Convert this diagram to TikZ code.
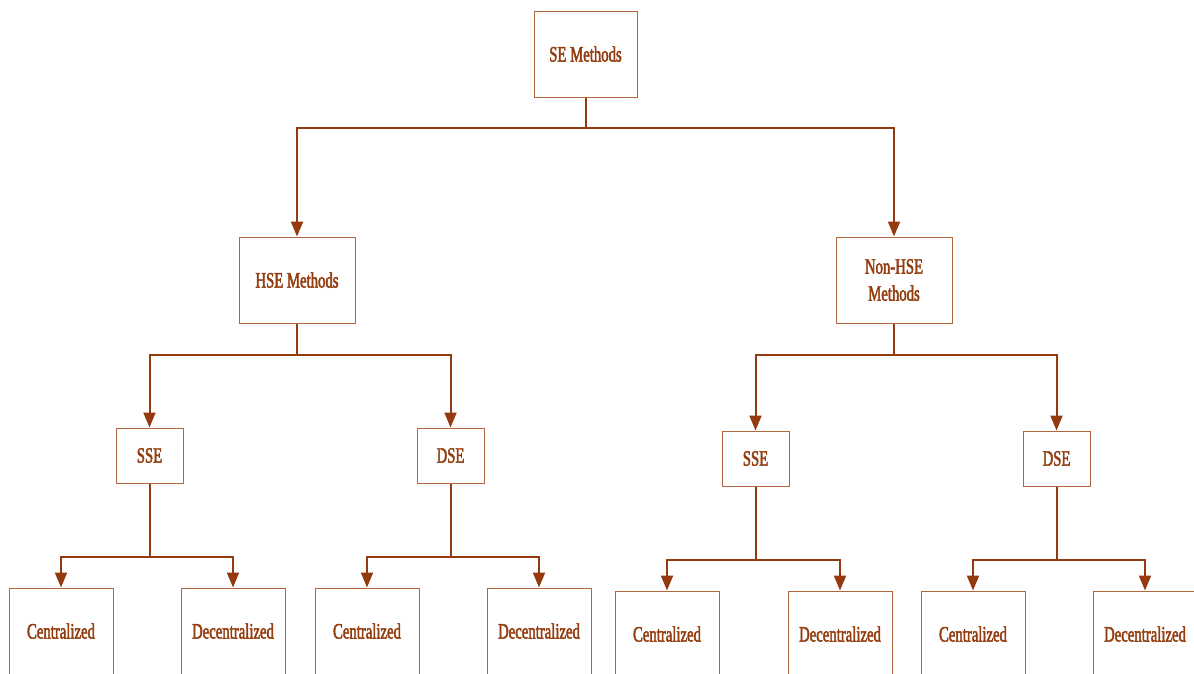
\documentclass[tikz,border=0pt]{standalone}
\usepackage{fontspec}
\setmainfont{Liberation Serif}[FakeStretch=0.67,FakeBold=2]
\usetikzlibrary{arrows.meta}
\definecolor{linec}{HTML}{943A0E}
\definecolor{boxc}{HTML}{B2673F}
\definecolor{textc}{HTML}{943D0E}
\begin{document}
\begin{tikzpicture}[x=1pt,y=-1pt,
  box/.style={draw=boxc,line width=1pt,rectangle,inner sep=0pt,text=textc,align=center,font=\fontsize{22}{27}\selectfont},
  bigbox/.style={box,minimum width=103pt,minimum height=86pt},
  midbox/.style={box,minimum width=116pt,minimum height=86pt},
  smallbox/.style={box,minimum width=67pt,minimum height=55pt},
  leafbox/.style={box,minimum width=104pt,minimum height=86pt},
  arr/.style={draw=linec,line width=2pt,-{Triangle[length=15pt,width=12pt]}}]
\useasboundingbox[fill=white] (0,0) rectangle (1194,673);
\begin{scope}
\clip (0,0) rectangle (1194,673);
\node[bigbox] (se) at (585.5,54) {SE Methods};
\node[midbox] (hse) at (297,280) {HSE Methods};
\node[midbox] (nhse) at (894,280) {Non-HSE\\Methods};
\node[smallbox] (sse1) at (149.5,455.5) {SSE};
\node[smallbox] (dse1) at (450.5,455.5) {DSE};
\node[smallbox] (sse2) at (755.5,458.5) {SSE};
\node[smallbox] (dse2) at (1056.5,458.5) {DSE};
\node[leafbox] (c1) at (61,631) {Centralized};
\node[leafbox] (d1) at (233,631) {Decentralized};
\node[leafbox] (c2) at (367,631) {Centralized};
\node[leafbox] (d2) at (539,631) {Decentralized};
\node[leafbox] (c3) at (667,634) {Centralized};
\node[leafbox] (d3) at (840,634) {Decentralized};
\node[leafbox] (c4) at (973,634) {Centralized};
\node[leafbox] (d4) at (1145,634) {Decentralized};
\end{scope}
\draw[arr] (se.south) -- ++(0,30) -| (hse.north);
\draw[arr] (se.south) -- ++(0,30) -| (nhse.north);
\draw[arr] (hse.south) -- ++(0,31) -| (sse1.north);
\draw[arr] (hse.south) -- ++(0,31) -| (dse1.north);
\draw[arr] (nhse.south) -- ++(0,31) -| (sse2.north);
\draw[arr] (nhse.south) -- ++(0,31) -| (dse2.north);
\draw[arr] (sse1.south) -- ++(0,73) -| (c1.north);
\draw[arr] (sse1.south) -- ++(0,73) -| (d1.north);
\draw[arr] (dse1.south) -- ++(0,73) -| (c2.north);
\draw[arr] (dse1.south) -- ++(0,73) -| (d2.north);
\draw[arr] (sse2.south) -- ++(0,73) -| (c3.north);
\draw[arr] (sse2.south) -- ++(0,73) -| (d3.north);
\draw[arr] (dse2.south) -- ++(0,73) -| (c4.north);
\draw[arr] (dse2.south) -- ++(0,73) -| (d4.north);
\end{tikzpicture}
\end{document}
